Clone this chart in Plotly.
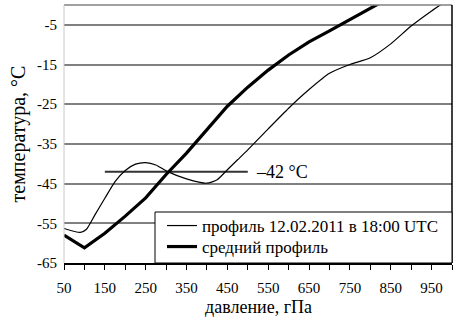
import plotly.graph_objects as go

# pressure (hPa) and temperature (°C)
profile_p = [50, 90, 105, 125, 150, 175, 200, 225, 250, 275, 300, 350, 400, 425, 450, 475,
             500, 550, 600, 650, 700, 750, 800, 850, 900, 950, 1000]
profile_t = [-56.3, -57.3, -56.5, -53.0, -48.7, -44.5, -41.7, -40.1, -39.7, -40.3, -41.8,
             -43.8, -44.9, -44.0, -41.5, -39.0, -36.5, -31.2, -26.0, -21.3, -17.2, -15.0,
             -13.3, -9.8, -5.3, -1.5, 2.0]

mean_p = [50, 100, 150, 200, 250, 300, 350, 400, 450, 500, 550, 600, 650, 700, 750, 800, 850]
mean_t = [-58.0, -61.2, -57.5, -53.2, -48.6, -42.7, -37.3, -31.5, -25.5, -20.7, -16.4,
          -12.6, -9.3, -6.5, -3.6, -0.7, 2.0]

level_p = [150, 500]
level_t = [-42, -42]

x_ticks = [50, 150, 250, 350, 450, 550, 650, 750, 850, 950]
y_ticks = [-5, -15, -25, -35, -45, -55, -65]
y_ticktext = ["-5", "-15", "-25", "-35", "-45", "-55", "-65"]

FONT = "Liberation Serif"
NB = "\u00a0"

fig = go.Figure()
fig.add_trace(go.Scatter(x=level_p, y=level_t, mode="lines",
                         line=dict(color="#333333", width=2), showlegend=False))
fig.add_trace(go.Scatter(x=profile_p, y=profile_t, mode="lines",
                         line=dict(color="black", width=1.2, shape="spline", smoothing=0.6),
                         name="профиль 12.02.2011 в 18:00 UTC", legend="legend"))
fig.add_trace(go.Scatter(x=mean_p, y=mean_t, mode="lines",
                         line=dict(color="black", width=3.2),
                         name="средний профиль", legend="legend2"))

fig.add_annotation(x=515, y=-42, xref="x", yref="y", text="–42 °C", showarrow=False,
                   xanchor="left", yanchor="middle", font=dict(family=FONT, size=18, color="black"))

# x-axis title placed close under the tick labels, as in the original
fig.add_annotation(x=0.5, y=(263 - 307) / 258, xref="paper", yref="paper",
                   text="давление, гПа", showarrow=False, xanchor="center", yanchor="middle",
                   font=dict(family=FONT, size=18, color="black"))

legend_common = dict(xanchor="left", yanchor="middle", bgcolor="rgba(0,0,0,0)",
                     borderwidth=0, font=dict(family=FONT, size=17, color="black"),
                     itemwidth=30)

fig.update_layout(
    width=456, height=320,
    margin=dict(l=64, r=4, t=5, b=57, autoexpand=False),
    paper_bgcolor="white", plot_bgcolor="white",
    font=dict(family=FONT, size=15, color="black"),
    legend=dict(x=(162 - 64) / 388, y=(263 - 226) / 258, **legend_common),
    legend2=dict(x=(162 - 64) / 388, y=(263 - 247) / 258, **legend_common),
    xaxis=dict(range=[50, 1000], tickvals=x_ticks, ticks="outside", ticklen=5,
               tickcolor="black", showgrid=False, zeroline=False, automargin=False,
               showline=True, linecolor="black", linewidth=1.5, ticklabelstandoff=5,
               minor=dict(tickvals=list(range(50, 1001, 50)), ticks="outside", ticklen=5, tickcolor="black"),
               tickfont=dict(size=15)),
    yaxis=dict(range=[-65, 0], tickvals=y_ticks, ticktext=y_ticktext, ticks="",
               ticklabelstandoff=6, showgrid=True, automargin=False,
               gridcolor="#808080", gridwidth=1.5, zeroline=False,
               showline=False,
               title=dict(text=NB * 5 + "температура, °C", font=dict(size=20), standoff=6),
               tickfont=dict(size=15)),
)

# plot-area frame
fig.add_shape(type="line", xref="paper", yref="paper", x0=0, x1=1, y0=1, y1=1,
              line=dict(color="#808080", width=1.5))
fig.add_shape(type="line", xref="paper", yref="paper", x0=1, x1=1, y0=0, y1=1,
              line=dict(color="black", width=1.5))
fig.add_shape(type="line", xref="paper", yref="paper", x0=0, x1=0, y0=0, y1=1,
              line=dict(color="#c8c8c8", width=1))
# legend frame
fig.add_shape(type="rect", xref="paper", yref="paper",
              x0=(155 - 64) / 388, x1=1, y0=0, y1=(263 - 212) / 258,
              line=dict(color="black", width=1), fillcolor="white", layer="above")

fig.write_html("out.html", config={"displayModeBar": False},
               post_script="document.body.style.margin='0';document.body.style.padding='0';")
